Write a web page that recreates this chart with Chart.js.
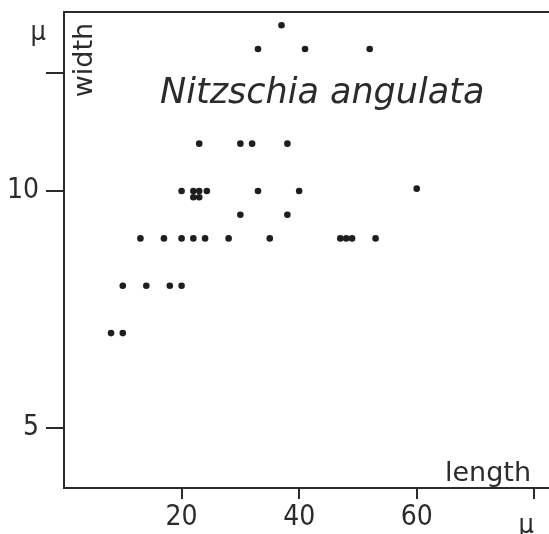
<!DOCTYPE html>
<html>
<head>
<meta charset="utf-8">
<script src="https://cdn.jsdelivr.net/npm/chart.js@4"></script>
<style>
  html, body { margin: 0; padding: 0; background: #fff; }
  #wrap { width: 549px; height: 534px; }
</style>
</head>
<body>
<div id="wrap"><canvas id="chart" width="549" height="534"></canvas></div>
<script>
// cell length (μ) and width (μ), one entry per dot
var lengthVals = [8, 10,
  10, 14, 18, 20,
  13, 17, 20, 22, 24, 28, 35, 47, 48, 49, 53,
  30, 38,
  20, 22, 23, 24.3, 22, 23, 33, 40, 60,
  23, 30, 32, 38,
  33, 41, 52, 37];
var widthVals = [7, 7,
  8, 8, 8, 8,
  9, 9, 9, 9, 9, 9, 9, 9, 9, 9, 9,
  9.5, 9.5,
  10, 10, 10, 10, 9.87, 9.87, 10, 10, 10.05,
  11, 11, 11, 11,
  13, 13, 13, 13.5];

var xTicks = [20, 40, 60, 80];
var xTickLabels = ['20', '40', '60', ''];
var yTicks = [5, 10, 12.5];
var yTickLabels = ['5', '10', ''];

var INK = '#2b2b2b';
var FONT = '"Liberation Sans Narrow", "DejaVu Sans Condensed", "Liberation Sans", sans-serif';
var LABEL_FONT = '"DejaVu Sans", sans-serif';

var points = lengthVals.map(function (x, i) { return { x: x, y: widthVals[i] }; });

// no extra room for edge labels, the frame is placed by layout padding
function noPad(s) {
  s.paddingTop = 0; s.paddingBottom = 0; s.paddingLeft = 0; s.paddingRight = 0;
}

// extra text + top frame line
var decor = {
  id: 'decor',
  afterDraw: function (chart) {
    var c = chart.ctx, a = chart.chartArea;
    c.save();
    c.strokeStyle = INK;
    c.lineWidth = 2;
    c.beginPath();
    c.moveTo(a.left, a.top);
    c.lineTo(a.right, a.top);
    c.stroke();

    c.fillStyle = INK;
    c.textBaseline = 'alphabetic';

    c.font = 'italic 35px ' + LABEL_FONT;
    c.textAlign = 'left';
    c.fillText('Nitzschia angulata', 160, 103);

    c.font = '27px ' + LABEL_FONT;
    c.textAlign = 'right';
    c.fillText('length', 531, 481);

    c.font = '27px ' + FONT;
    c.fillText('\u03bc', 46, 40);
    c.fillText('\u03bc', 534, 533);

    c.font = '27px ' + LABEL_FONT;
    c.translate(92, 60);
    c.rotate(-Math.PI / 2);
    c.textAlign = 'center';
    c.fillText('width', 0, 0);
    c.restore();
  }
};

new Chart(document.getElementById('chart'), {
  type: 'scatter',
  data: {
    datasets: [{
      data: points,
      backgroundColor: '#1e1e1e',
      borderWidth: 0,
      pointRadius: 3.3,
      pointHoverRadius: 3.3
    }]
  },
  options: {
    responsive: false,
    animation: false,
    layout: { autoPadding: false, padding: { top: 12, right: 0, left: 0, bottom: 0 } },
    plugins: { legend: { display: false }, tooltip: { enabled: false } },
    scales: {
      x: {
        type: 'linear',
        min: 0,
        max: 82.5,
        afterFit: function (s) { s.height = 46; noPad(s); },
        afterBuildTicks: function (s) {
          s.ticks = xTicks.map(function (v) { return { value: v }; });
        },
        ticks: {
          color: INK,
          font: { family: FONT, size: 28 },
          padding: 2,
          maxRotation: 0,
          autoSkip: false,
          callback: function (v) { return xTickLabels[xTicks.indexOf(v)]; }
        },
        grid: { drawOnChartArea: false, drawTicks: true, tickLength: 11, color: INK, lineWidth: 2 },
        border: { display: true, color: INK, width: 2 }
      },
      y: {
        type: 'linear',
        min: 3.73,
        max: 13.78,
        afterFit: function (s) { s.width = 64; noPad(s); },
        afterBuildTicks: function (s) {
          s.ticks = yTicks.map(function (v) { return { value: v }; });
        },
        ticks: {
          color: INK,
          font: { family: FONT, size: 28 },
          padding: 7,
          autoSkip: false,
          callback: function (v) { return yTickLabels[yTicks.indexOf(v)]; }
        },
        grid: { drawOnChartArea: false, drawTicks: true, tickLength: 18, color: INK, lineWidth: 2 },
        border: { display: true, color: INK, width: 2 }
      }
    }
  },
  plugins: [decor]
});
</script>
</body>
</html>
